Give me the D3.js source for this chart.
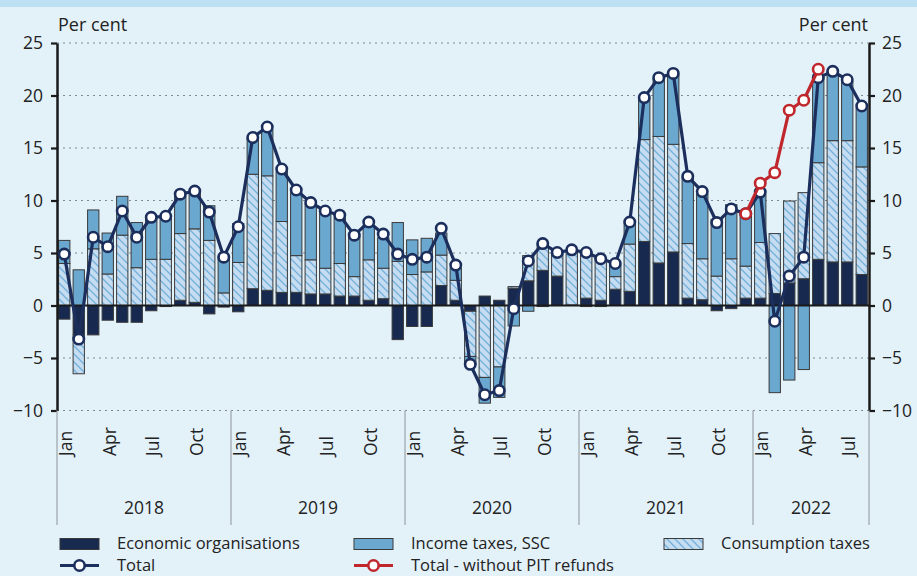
<!DOCTYPE html>
<html><head><meta charset="utf-8">
<script src="https://cdn.jsdelivr.net/npm/d3@7"></script>
<style>
html,body{margin:0;padding:0;background:#e3f1f9;}
svg{display:block;font-family:"Open Sans",sans-serif;}
</style></head><body>
<svg id="chart" width="917" height="576"></svg>
<script>
// ---------- DATA ----------
const years = [2018, 2019, 2020, 2021, 2022];
const monthNames = ["Jan","Feb","Mar","Apr","May","Jun","Jul","Aug","Sep","Oct","Nov","Dec"];
const monthsPerYear = [12, 12, 12, 12, 8];
const periods = [];
years.forEach((yr, k) => { for (let m = 1; m <= monthsPerYear[k]; m++) periods.push(yr + "-" + String(m).padStart(2, "0")); });

const econ = [
  -1.3,-2.8,-2.8,-1.4,-1.6,-1.6,-0.5,-0.1,0.5,0.3,-0.8,-0.15,
  -0.6,1.6,1.45,1.25,1.25,1.1,1.1,0.9,0.9,0.5,0.65,-3.25,
  -2.0,-2.0,1.9,0.5,-0.55,0.9,0.5,1.65,2.35,3.35,2.8,0.05,
  0.7,0.5,1.55,1.35,6.1,4.05,5.1,0.7,0.55,-0.5,-0.3,0.7,
  0.7,1.15,2.15,2.55,4.4,4.15,4.15,2.95
];
const cons = [
  4.0,-3.7,5.4,3.0,6.7,3.6,4.4,4.4,6.35,7.0,6.2,1.2,
  4.1,10.9,10.9,6.75,3.5,3.25,2.45,3.1,1.85,3.85,2.9,4.2,
  2.95,3.2,2.9,1.9,-4.3,-6.85,-5.85,0.15,2.4,2.5,2.2,5.2,
  4.45,4.05,1.2,4.5,9.7,12.05,10.25,5.2,3.9,2.8,4.45,3.05,
  5.3,5.7,7.8,8.2,9.2,11.55,11.55,10.25
];
const inc = [
  2.2,3.4,3.7,3.9,3.7,4.3,3.9,4.0,3.55,3.45,3.3,3.4,
  3.7,3.4,4.4,4.8,6.0,5.3,5.2,4.3,3.9,3.3,2.9,3.7,
  3.3,3.2,2.1,1.2,-0.8,-2.45,-2.9,-1.95,-0.55,-0.1,0.1,0.0,
  -0.1,-0.1,1.1,2.0,3.9,5.5,6.6,6.3,6.15,5.4,5.15,5.0,
  4.6,-8.3,-7.1,-6.1,8.1,6.6,5.6,5.6
];
const total = [
  4.9,-3.2,6.5,5.6,9.0,6.5,8.4,8.5,10.6,10.9,8.9,4.6,
  7.5,16.0,17.0,13.0,11.0,9.8,9.0,8.6,6.7,7.95,6.8,4.9,
  4.4,4.6,7.35,3.85,-5.6,-8.5,-8.1,-0.3,4.25,5.9,5.05,5.3,
  5.05,4.45,4.0,7.95,19.8,21.7,22.1,12.3,10.85,7.9,9.2,8.75,
  10.8,-1.5,2.8,4.6,21.7,22.3,21.5,19.0
];
const noPitPeriods = ["2021-12","2022-01","2022-02","2022-03","2022-04","2022-05"];
const noPitValues  = [8.75, 11.65, 12.65, 18.6, 19.55, 22.5];

const yTicks = [-10,-5,0,5,10,15,20,25];
const labelMonths = ["01","04","07","10"];

// ---------- CHART ----------
const svg = d3.select("#chart");
const X0 = 57, X1 = 869, YT = 43, YB = 410.5;
const C_ECON = "#17294f", C_INC = "#6aa8d0", C_CONS = "#c6dcf0", C_HATCH = "#72b1dc";
const C_TOT = "#1b2e5c", C_RED = "#c0272d";

svg.append("rect").attr("width",917).attr("height",576).attr("fill","#e3f1f9");
svg.append("rect").attr("width",917).attr("height",7).attr("fill","#bde0f3");

const defs = svg.append("defs");
const pat = defs.append("pattern").attr("id","hatch").attr("patternUnits","userSpaceOnUse")
  .attr("width",8).attr("height",8);
pat.append("rect").attr("width",8).attr("height",8).attr("fill",C_CONS);
pat.append("path").attr("d","M0,0L8,8M-1,7L1,9M7,-1L9,1").attr("stroke",C_HATCH).attr("stroke-width",1.3);

const x = d3.scaleBand().domain(periods).range([X0, X1]).paddingInner(0.22).paddingOuter(0.11);
const y = d3.scaleLinear().domain([-10, 25]).range([YB, YT]);
const cx = d => x(d) + x.bandwidth() / 2;

// gridlines
svg.append("g").selectAll("line").data(yTicks.filter(v => v !== 0)).join("line")
  .attr("x1", X0).attr("x2", X1).attr("y1", d => y(d)).attr("y2", d => y(d))
  .attr("stroke", "#7d8a92").attr("stroke-width", 1.2).attr("stroke-dasharray", "2,4");

// stacked bars
const rows = periods.map((p, i) => ({ period: p, econ: econ[i], cons: cons[i], inc: inc[i] }));
const keys = ["econ","cons","inc"];
const fills = { econ: C_ECON, cons: "url(#hatch)", inc: C_INC };
const stack = d3.stack().keys(keys).offset(d3.stackOffsetDiverging)(rows);
svg.append("g").selectAll("g").data(stack).join("g")
  .attr("fill", s => fills[s.key])
  .selectAll("rect").data(s => s).join("rect")
  .attr("x", d => x(d.data.period)).attr("width", x.bandwidth())
  .attr("y", d => y(Math.max(d[0], d[1])))
  .attr("height", d => Math.abs(y(d[0]) - y(d[1])))
  .attr("stroke", "#3a3a3a").attr("stroke-width", 1);

// zero line
svg.append("line").attr("x1", X0).attr("x2", X1).attr("y1", y(0)).attr("y2", y(0))
  .attr("stroke", "#1a1a1a").attr("stroke-width", 2.2);

// axes
const fmt = d => (d < 0 ? "\u2212" + Math.abs(d) : String(d));
const axL = svg.append("g").attr("transform", `translate(${X0},0)`)
  .call(d3.axisLeft(y).tickValues(yTicks).tickSize(6).tickSizeOuter(0).tickPadding(8).tickFormat(fmt));
const axR = svg.append("g").attr("transform", `translate(${X1},0)`)
  .call(d3.axisRight(y).tickValues(yTicks).tickSize(6).tickSizeOuter(0).tickPadding(7).tickFormat(fmt));
[axL, axR].forEach(a => {
  a.select(".domain").attr("stroke", "#1a1a1a").attr("stroke-width", 2.5);
  a.selectAll(".tick line").attr("stroke", "#1a1a1a").attr("stroke-width", 2.2);
  a.selectAll(".tick text").attr("fill", "#222").style("font-size", "17.5px").style("font-family", "Open Sans");
});

svg.append("text").attr("x", 58).attr("y", 31).attr("fill", "#222").style("font-size", "18px").text("Per cent");
svg.append("text").attr("x", 868).attr("y", 31).attr("text-anchor", "end").attr("fill", "#222").style("font-size", "18px").text("Per cent");

// year separators
const sepIdx = [0];
let acc = 0; monthsPerYear.forEach(n => { acc += n; sepIdx.push(acc); });
svg.append("g").selectAll("line").data(sepIdx).join("line")
  .attr("x1", d => X0 + d * x.step()).attr("x2", d => X0 + d * x.step())
  .attr("y1", YB).attr("y2", 525).attr("stroke", "#9aa3a8").attr("stroke-width", 1.2);

// month labels
svg.append("g").selectAll("text").data(periods.filter(p => labelMonths.includes(p.slice(5)))).join("text")
  .attr("transform", d => `translate(${cx(d) + 1.5},456) rotate(-90)`)
  .attr("dy", "0.36em").attr("fill", "#222").style("font-size", "17.5px")
  .text(d => monthNames[+d.slice(5) - 1]);

// year labels
svg.append("g").selectAll("text").data(years).join("text")
  .attr("x", (d, k) => X0 + (sepIdx[k] + sepIdx[k + 1]) / 2 * x.step())
  .attr("y", 514).attr("text-anchor", "middle").attr("fill", "#222").style("font-size", "17.5px")
  .text(d => d);

// total line
const line = d3.line().x(d => cx(d.p)).y(d => y(d.v));
const totPts = periods.map((p, i) => ({ p, v: total[i] }));
svg.append("path").datum(totPts).attr("d", line).attr("fill", "none")
  .attr("stroke", C_TOT).attr("stroke-width", 3.2).attr("stroke-linejoin", "round");
svg.append("g").selectAll("circle").data(totPts).join("circle")
  .attr("cx", d => cx(d.p)).attr("cy", d => y(d.v)).attr("r", 5.2)
  .attr("fill", "#fff").attr("stroke", C_TOT).attr("stroke-width", 2.6);

// total without PIT refunds
const redPts = noPitPeriods.map((p, i) => ({ p, v: noPitValues[i] }));
svg.append("path").datum(redPts).attr("d", line).attr("fill", "none")
  .attr("stroke", C_RED).attr("stroke-width", 3.2).attr("stroke-linejoin", "round");
svg.append("g").selectAll("circle").data(redPts).join("circle")
  .attr("cx", d => cx(d.p)).attr("cy", d => y(d.v)).attr("r", 5.2)
  .attr("fill", "#fff").attr("stroke", C_RED).attr("stroke-width", 2.6);

// legend
const lg = svg.append("g").style("font-size", "16.5px").attr("fill", "#222");
const legendItems = [
  { type: "rect", fill: C_ECON, x: 60, y: 543.5, label: "Economic organisations" },
  { type: "rect", fill: C_INC, x: 354, y: 543.5, label: "Income taxes, SSC" },
  { type: "rect", fill: "url(#hatch)", x: 664, y: 543.5, label: "Consumption taxes" },
  { type: "line", color: C_TOT, x: 60, y: 565.5, label: "Total" },
  { type: "line", color: C_RED, x: 354, y: 565.5, label: "Total - without PIT refunds" }
];
legendItems.forEach(it => {
  if (it.type === "rect") {
    lg.append("rect").attr("x", it.x).attr("y", it.y - 5).attr("width", 39).attr("height", 11)
      .attr("fill", it.fill).attr("stroke", "#3a3a3a").attr("stroke-width", 1);
  } else {
    lg.append("line").attr("x1", it.x).attr("x2", it.x + 39).attr("y1", it.y).attr("y2", it.y)
      .attr("stroke", it.color).attr("stroke-width", 3.2);
    lg.append("circle").attr("cx", it.x + 19.5).attr("cy", it.y).attr("r", 5.2)
      .attr("fill", "#fff").attr("stroke", it.color).attr("stroke-width", 2.6);
  }
  lg.append("text").attr("x", it.x + 57).attr("y", it.y).attr("dy", "0.35em").text(it.label);
});
</script>
</body></html>
